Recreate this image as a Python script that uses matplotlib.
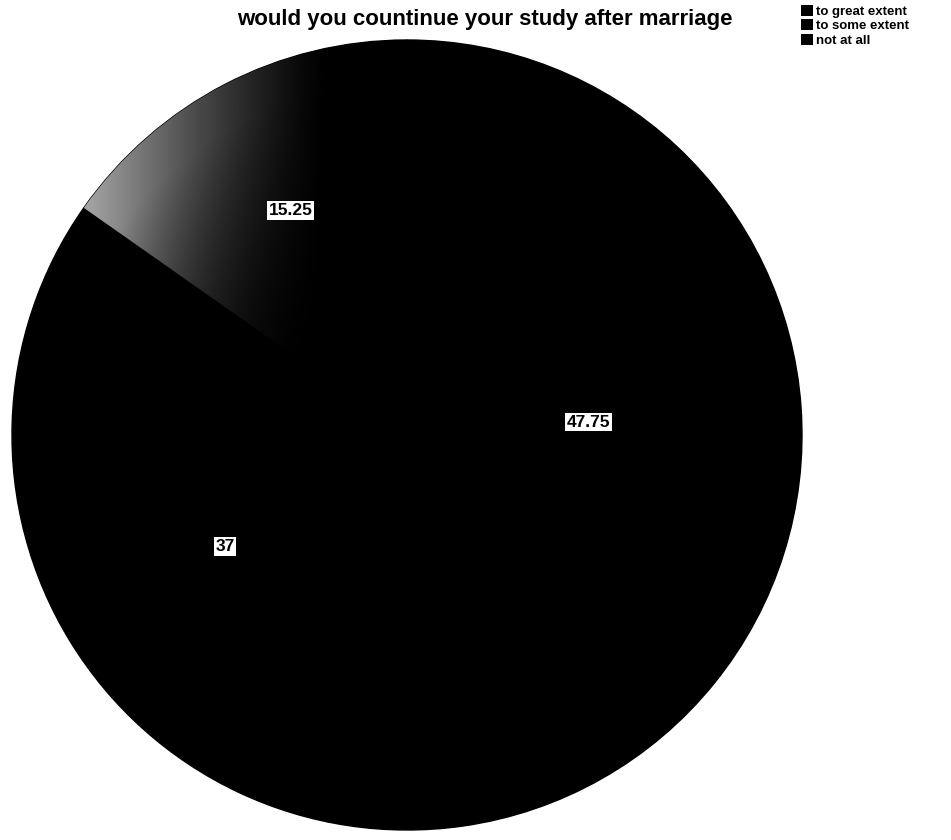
import numpy as np
import matplotlib
matplotlib.use("Agg")
import matplotlib.pyplot as plt
from matplotlib.patches import Patch

title = "would you countinue your study after marriage"
categories = ["to great extent", "to some extent", "not at all"]
values = [47.75, 37, 15.25]

plt.rcParams["font.family"] = ["Liberation Sans", "DejaVu Sans"]

fig = plt.figure(figsize=(9.51, 8.40), dpi=100)
ax = fig.add_axes([12 / 951, 10 / 840, 790 / 951, 790 / 840])

colors = ["#000000", "#000000", "#000000"]
wedges, _ = ax.pie(values, colors=colors, startangle=90, counterclock=False,
                   radius=1.0, wedgeprops=dict(linewidth=1.0, edgecolor="black"))

# shaded fill for the small slice: light at its outer left edge, dark inward
light = wedges[2]
xx, yy = np.meshgrid(np.linspace(-1, 1, 600), np.linspace(-1, 1, 600))
rr = np.hypot(xx, yy)
shade = np.clip((-xx - 0.2) / 0.7, 0, 1) ** 1.3 * np.clip((rr - 0.3) / 0.6, 0, 1)
img = ax.imshow(shade, extent=[-1, 1, -1, 1], origin="lower", cmap="gray",
                vmin=0, vmax=1.3, zorder=1.5, interpolation="bilinear")
img.set_clip_path(light)

dist = [0.46, 0.54, 0.64]
for w, v, d in zip(wedges, values, dist):
    ang = np.deg2rad((w.theta1 + w.theta2) / 2)
    ax.text(d * np.cos(ang), d * np.sin(ang), f"{v:g}", ha="center", va="center",
            fontsize=12.5, fontweight="bold", color="black", zorder=3,
            bbox=dict(boxstyle="square,pad=0.1", fc="white", ec="none"))

ax.set_xlim(-1, 1)
ax.set_ylim(-1, 1)
ax.set_aspect("equal")
ax.axis("off")

fig.text(485 / 951, 1 - 20 / 840, title, ha="center", va="center",
         fontsize=16, fontweight="bold")

handles = [Patch(facecolor="#000000") for _ in categories]
fig.legend(handles, categories, loc="upper left",
           bbox_to_anchor=(801 / 951, 1 - 5 / 840), frameon=False,
           prop=dict(weight="bold", size=9.5),
           handlelength=0.9, handleheight=0.9, handletextpad=0.25,
           labelspacing=0.1, borderaxespad=0, borderpad=0)

fig.savefig("out.png", dpi=100)
